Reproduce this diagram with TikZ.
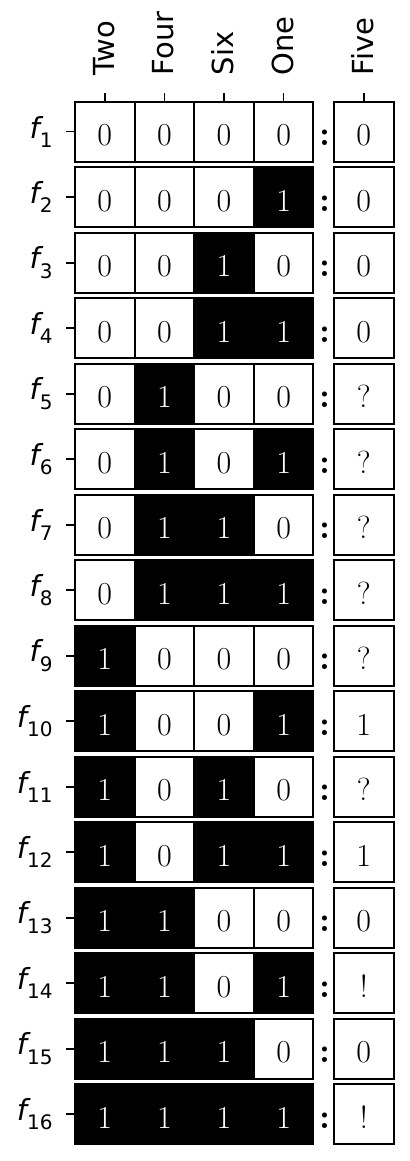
\documentclass[tikz,border=0pt]{standalone}
\usepackage{fontspec}
\setsansfont{DejaVu Sans}
\newcommand{\flab}[1]{{\itshape f}\raisebox{-0.32em}{\fontsize{10}{10}\selectfont #1}}

\begin{document}
\begin{tikzpicture}[x=0.5pt,y=-0.5pt,
            cell/.style={draw=black, line width=1pt, minimum width=29.8pt, minimum height=30pt, inner sep=0pt, text height=14pt, text depth=0pt, font=\fontsize{16}{18}\selectfont},
            bit0/.style={cell, fill=white, text=black},
            bit1/.style={cell, fill=black, text=white},
            outbox/.style={cell, fill=white, text=black},
            colon/.style={inner sep=0pt, font=\bfseries\fontsize{17.5}{19}\selectfont},
            rowlab/.style={anchor=east, inner sep=0pt, font=\sffamily\fontsize{14.5}{17}\selectfont},
            collab/.style={anchor=west, rotate=90, inner sep=0pt, font=\sffamily\fontsize{14.5}{17}\selectfont},
            axtick/.style={line width=0.8pt}]
            \useasboundingbox (0,0) rectangle (409,1161);
            \foreach \r/\a/\b/\c/\d/\o in {1/0/0/0/0/0, 2/0/0/0/1/0, 3/0/0/1/0/0, 4/0/0/1/1/0,
                    5/0/1/0/0/?, 6/0/1/0/1/?, 7/0/1/1/0/?, 8/0/1/1/1/?,
                    9/1/0/0/0/?, 10/1/0/0/1/1, 11/1/0/1/0/?, 12/1/0/1/1/1,
                    13/1/1/0/0/0, 14/1/1/0/1/!, 15/1/1/1/0/0, 16/1/1/1/1/!} {
                \pgfmathsetmacro\yc{131.7+(\r-1)*65.5}
                \node[bit\a] (c\r-1) at (104.8,\yc) {\a};
                \node[bit\b] (c\r-2) at (164.4,\yc) {\b};
                \node[bit\c] (c\r-3) at (224,\yc) {\c};
                \node[bit\d] (c\r-4) at (283.6,\yc) {\d};
                \node[colon] (k\r) at (324.5,\yc+6.5) {:};
                \node[outbox] (o\r) at (363.75,\yc) {\o};
                \node[rowlab] (f\r) at (53,\yc) {\flab{\r}};
                \draw[axtick] (c\r-1.west) -- ++(-8,0);
            }
            \foreach \k/\name in {1/Two, 2/Four, 3/Six, 4/One} {
                \draw[axtick] (c1-\k.north) -- ++(0,-8);
                \path (c1-\k.north) ++(-1,-25) node[collab] (h\k) {\name};
            }
            \draw[axtick] (o1.north) -- ++(0,-8);
            \path (o1.north) ++(-1,-25) node[collab] (h5) {Five};
        \end{tikzpicture}
\end{document}
